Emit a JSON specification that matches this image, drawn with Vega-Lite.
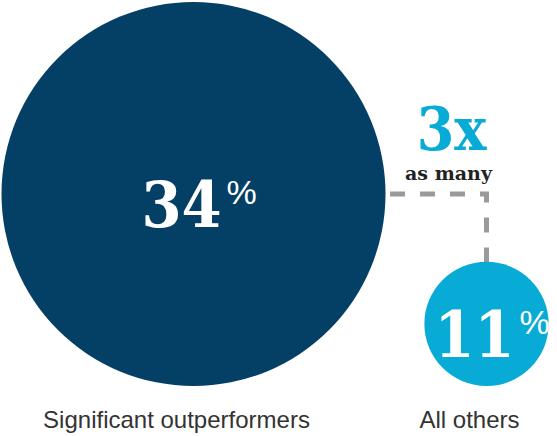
{
  "$schema": "https://vega.github.io/schema/vega-lite/v6.json",
  "width": 557,
  "height": 436,
  "autosize": {"type": "fit", "contains": "padding"},
  "padding": 0,
  "background": "white",
  "view": {"stroke": null},
  "datasets": {
    "groups": [
      {"group": "Significant outperformers", "value": 34},
      {"group": "All others", "value": 11}
    ],
    "connector": [
      {"group": "Significant outperformers", "value": 34, "step": 1},
      {"group": "All others", "value": 34, "step": 2},
      {"group": "All others", "value": 11, "step": 3}
    ],
    "note": [
      {"group": "All others", "value": 34, "big": "3x", "small": "as many"}
    ]
  },
  "encoding": {
    "x": {
      "field": "group", "type": "nominal", "axis": null,
      "scale": {"type": "point", "domain": ["Significant outperformers", "All others"], "range": [193.5, 486.5], "padding": 0}
    },
    "y": {
      "field": "value", "type": "quantitative", "axis": null,
      "scale": {"domain": [0, 34], "range": [386, 194], "zero": false, "nice": false}
    }
  },
  "layer": [
    {
      "data": {"name": "connector"},
      "mark": {"type": "line", "color": "#9a9a9a", "strokeWidth": 5, "strokeDash": [15, 15], "strokeDashOffset": 13.5, "strokeCap": "butt"},
      "encoding": {"order": {"field": "step", "type": "quantitative"}}
    },
    {
      "data": {"name": "groups"},
      "mark": {"type": "point", "shape": "circle", "filled": true, "opacity": 1, "strokeWidth": 0},
      "encoding": {
        "size": {"field": "value", "type": "quantitative", "legend": null,
          "scale": {"type": "pow", "exponent": 2, "domain": [0, 34], "range": [0, 147456]}},
        "color": {"field": "group", "type": "nominal", "legend": null,
          "scale": {"domain": ["Significant outperformers", "All others"], "range": ["#043f66", "#08abd6"]}}
      }
    },
    {
      "data": {"name": "groups"},
      "mark": {"type": "text", "font": "DejaVu Serif Condensed", "fontWeight": "bold", "fontSize": 64, "color": "white", "align": "right", "baseline": "alphabetic", "dx": 28, "dy": 33},
      "encoding": {"text": {"field": "value", "type": "quantitative"}}
    },
    {
      "data": {"name": "groups"},
      "mark": {"type": "text", "font": "Liberation Sans", "fontSize": 34, "color": "white", "align": "left", "baseline": "alphabetic", "dx": 33, "dy": 10},
      "encoding": {"text": {"value": "%"}}
    },
    {
      "data": {"name": "groups"},
      "mark": {"type": "text", "font": "Liberation Sans", "fontSize": 24, "color": "#333333", "align": "center", "baseline": "alphabetic", "dx": -17, "dy": 42},
      "encoding": {
        "text": {"field": "group", "type": "nominal"},
        "y": {"datum": 0, "type": "quantitative"}
      }
    },
    {
      "data": {"name": "note"},
      "mark": {"type": "text", "font": "DejaVu Serif Condensed", "fontWeight": "bold", "fontSize": 60, "color": "#08abd6", "align": "center", "baseline": "alphabetic", "dx": -35, "dy": -44},
      "encoding": {"text": {"field": "big", "type": "nominal"}}
    },
    {
      "data": {"name": "note"},
      "mark": {"type": "text", "font": "DejaVu Serif", "fontWeight": "bold", "fontSize": 19, "color": "#222222", "align": "center", "baseline": "alphabetic", "dx": -38, "dy": -14},
      "encoding": {"text": {"field": "small", "type": "nominal"}}
    }
  ]
}
